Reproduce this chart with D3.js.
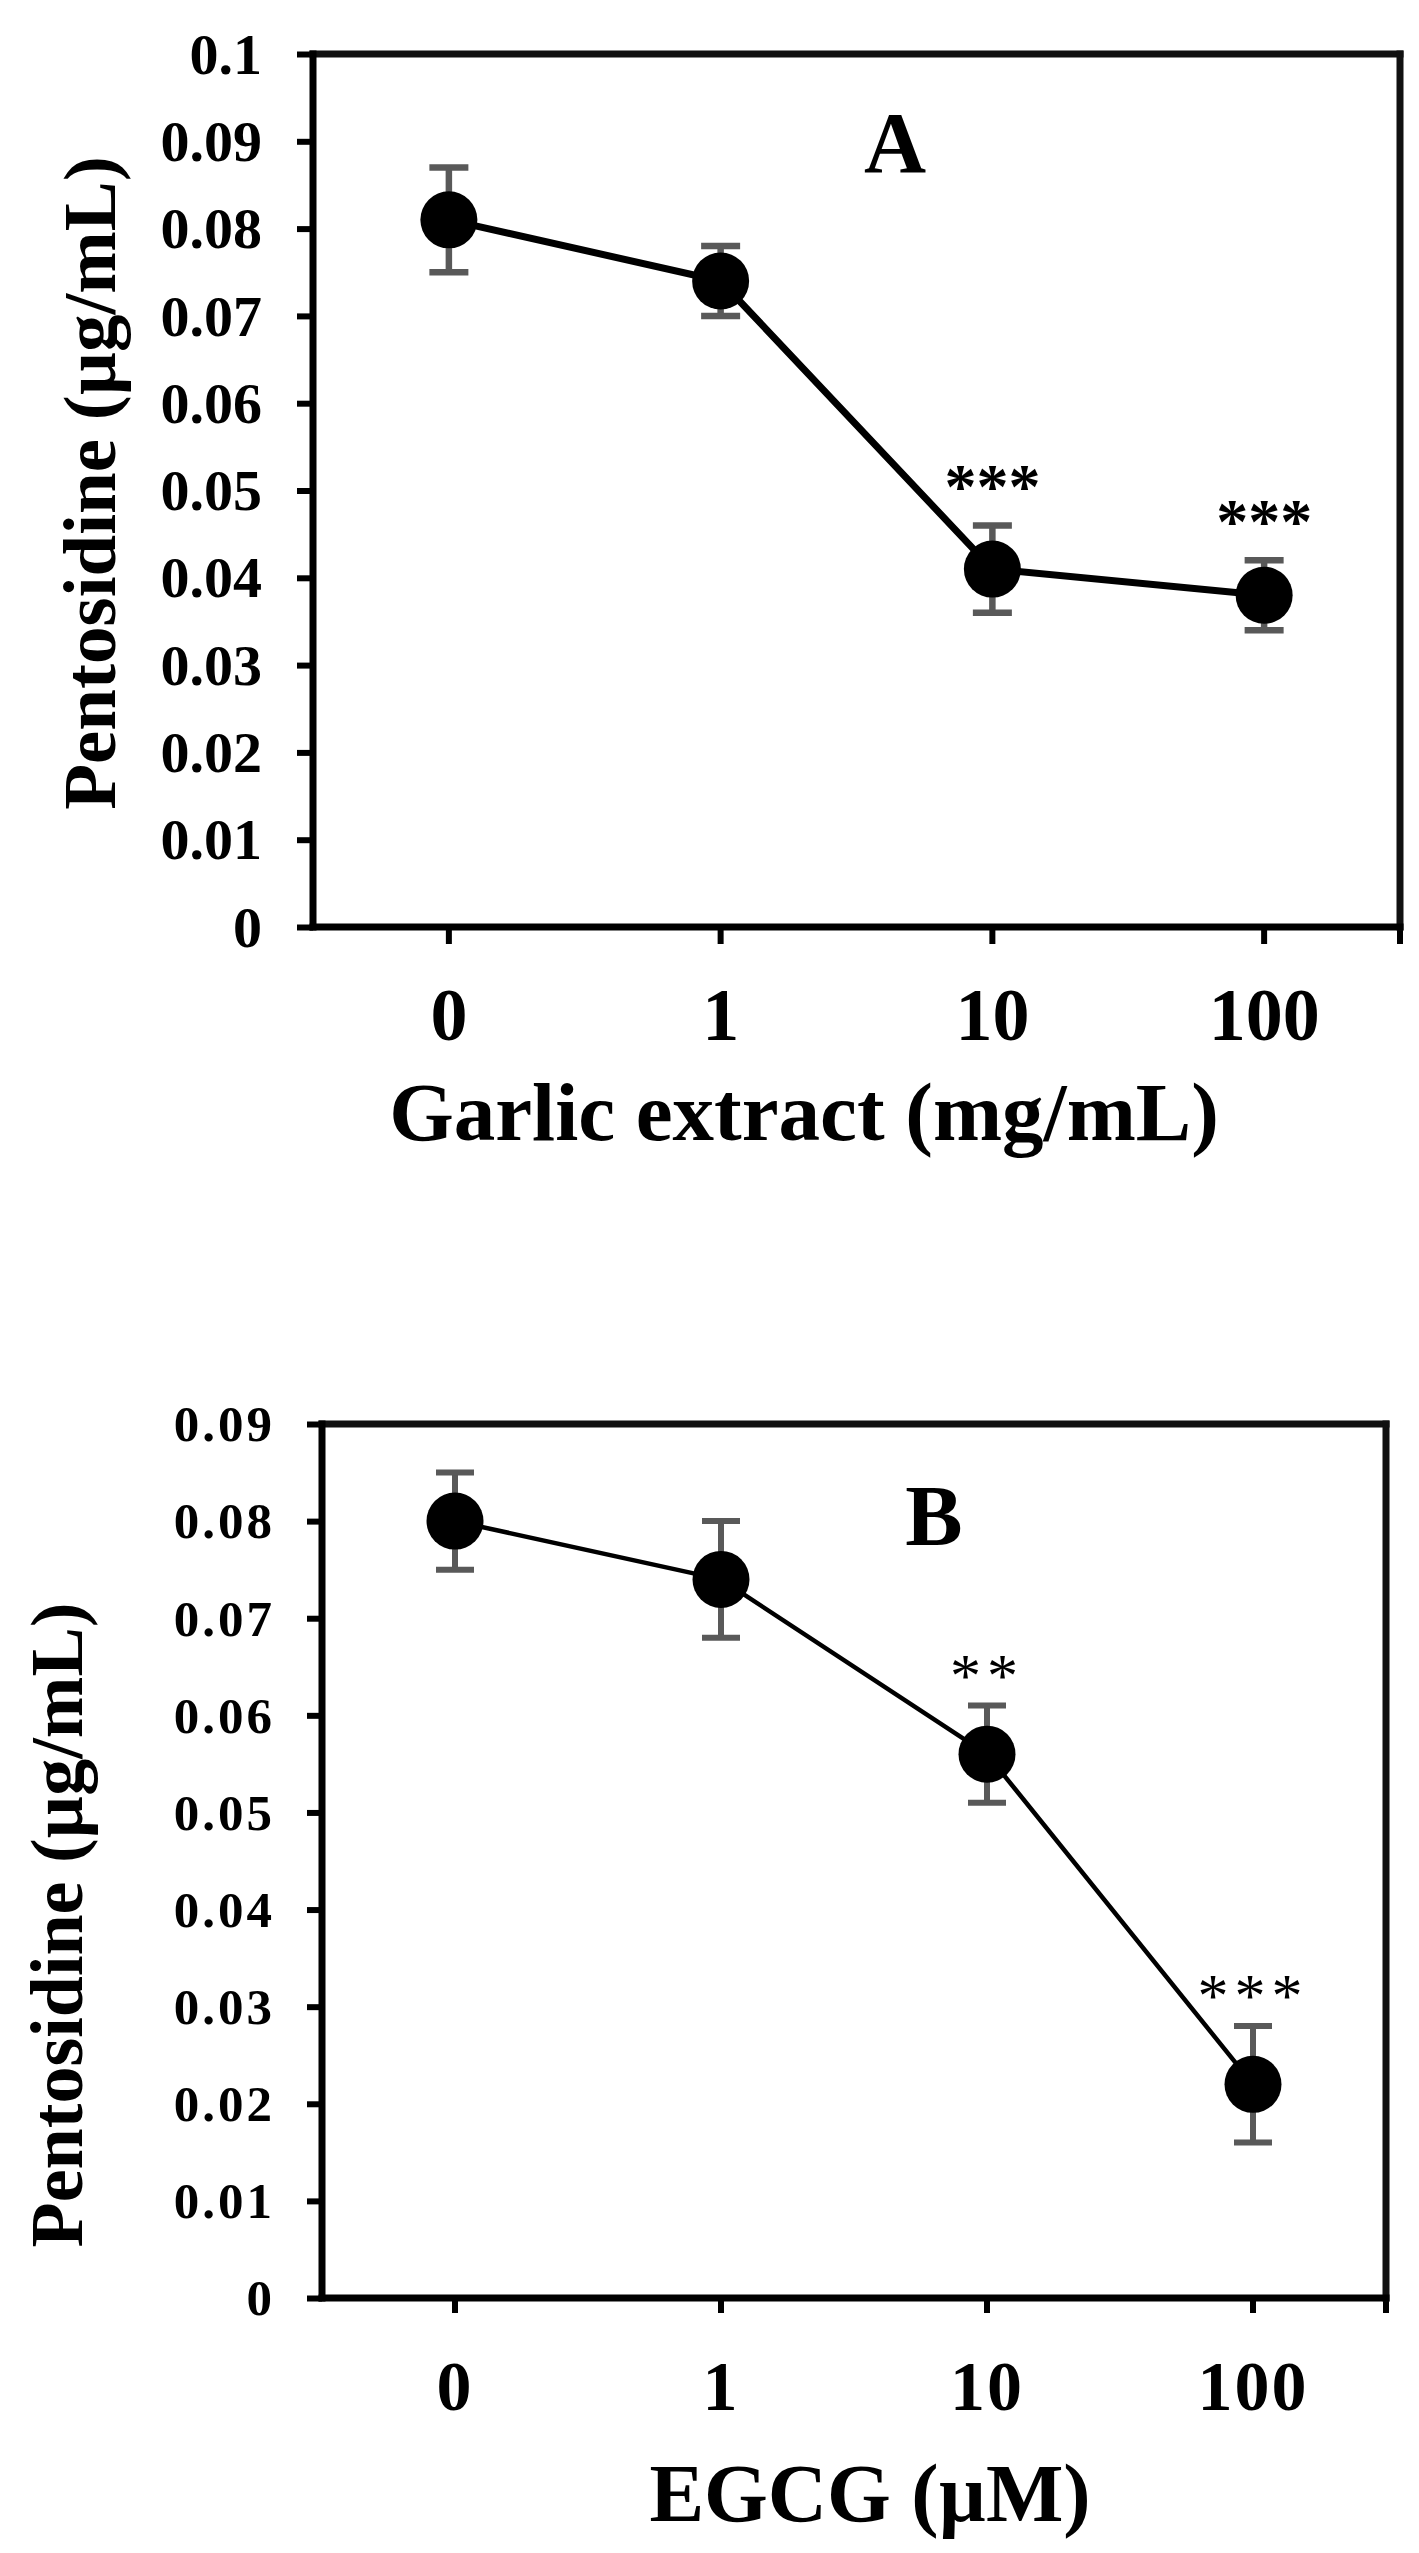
<!DOCTYPE html>
<html>
<head>
<meta charset="utf-8">
<script src="https://cdn.jsdelivr.net/npm/d3@7"></script>
<style>
  html, body { margin: 0; padding: 0; background: #fff; }
  svg { display: block; }
</style>
</head>
<body>
<svg id="chart" width="1419" height="2553"></svg>
<script>
// ---------------- Data ----------------
const categories = ["0", "1", "10", "100"];

const garlicMeans  = [0.081, 0.074, 0.041, 0.038];
const garlicErrors = [0.006, 0.004, 0.005, 0.004];
const garlicSig    = ["", "", "***", "***"];

const egcgMeans  = [0.080, 0.074, 0.056, 0.022];
const egcgErrors = [0.005, 0.006, 0.005, 0.006];
const egcgSig    = ["", "", "**", "***"];

const yTicksA      = [0, 0.01, 0.02, 0.03, 0.04, 0.05, 0.06, 0.07, 0.08, 0.09, 0.1];
const yTickLabelsA = ["0", "0.01", "0.02", "0.03", "0.04", "0.05", "0.06", "0.07", "0.08", "0.09", "0.1"];
const yTicksB      = [0, 0.01, 0.02, 0.03, 0.04, 0.05, 0.06, 0.07, 0.08, 0.09];
const yTickLabelsB = ["0", "0.01", "0.02", "0.03", "0.04", "0.05", "0.06", "0.07", "0.08", "0.09"];

const yTitle   = "Pentosidine (µg/mL)";
const xTitleA  = "Garlic extract (mg/mL)";
const xTitleB  = "EGCG (µM)";
const panelA   = "A";
const panelB   = "B";

// ---------------- Drawing ----------------
const svg = d3.select("#chart");
svg.append("rect").attr("width", 1419).attr("height", 2553).attr("fill", "#fff");
const FONT = "'Liberation Serif', 'Times New Roman', Times, serif";

function drawPanel(p) {
  const g = svg.append("g");
  const y = d3.scaleLinear().domain(p.yDomain).range([p.bottom, p.top]);
  const x = d3.scaleBand().domain(categories).range([p.left, p.right]);
  const cx = d => x(d) + x.bandwidth() / 2;

  // Y axis
  const yAxis = d3.axisLeft(y)
    .tickValues(p.yTicks)
    .tickFormat((d, i) => p.yLabels[i])
    .tickSize(p.yTickSize)
    .tickSizeOuter(0)
    .tickPadding(p.yTickPad);
  const ya = g.append("g").attr("transform", `translate(${p.left},0)`).call(yAxis);
  ya.select(".domain").remove();
  ya.selectAll(".tick line").attr("stroke", "#000").attr("stroke-width", 6);
  ya.attr("font-family", FONT).attr("font-size", p.yFont).attr("font-weight", "bold");
  ya.selectAll(".tick text").attr("fill", "#000").attr("letter-spacing", p.yLetter)
    .attr("dy", "0.33em");

  // X axis
  const xAxis = d3.axisBottom(x).tickSize(p.xTickSize).tickSizeOuter(0);
  const xa = g.append("g").attr("transform", `translate(0,${p.bottom})`).call(xAxis);
  xa.select(".domain").remove();
  xa.selectAll(".tick line").attr("stroke", "#000").attr("stroke-width", 6);
  xa.attr("font-family", FONT).attr("font-size", p.xFont).attr("font-weight", "bold");
  xa.selectAll(".tick text").attr("fill", "#000").attr("y", p.xLabelBase).attr("dy", 0)
    .attr("letter-spacing", p.xLetter);
  // extra tick at the right end of the category axis
  g.append("line")
    .attr("x1", x.range()[1]).attr("x2", x.range()[1])
    .attr("y1", p.bottom).attr("y2", p.bottom + p.xTickSize)
    .attr("stroke", "#000").attr("stroke-width", 6);

  // Frame
  const fw = 7;
  g.append("line").attr("x1", p.left).attr("x2", p.right).attr("y1", p.top).attr("y2", p.top)
    .attr("stroke", "#111").attr("stroke-width", fw).attr("stroke-linecap", "square");
  g.append("line").attr("x1", p.right).attr("x2", p.right).attr("y1", p.top).attr("y2", p.bottom)
    .attr("stroke", "#111").attr("stroke-width", fw).attr("stroke-linecap", "square");
  g.append("line").attr("x1", p.left).attr("x2", p.left).attr("y1", p.top).attr("y2", p.bottom)
    .attr("stroke", "#000").attr("stroke-width", fw).attr("stroke-linecap", "square");
  g.append("line").attr("x1", p.left).attr("x2", p.right).attr("y1", p.bottom).attr("y2", p.bottom)
    .attr("stroke", "#000").attr("stroke-width", fw).attr("stroke-linecap", "square");

  const pts = categories.map((c, i) => ({ c, v: p.means[i], e: p.errors[i], s: p.sig[i] }));

  // Error bars
  const eb = g.append("g").attr("stroke", "#595959").attr("stroke-width", p.errWidth);
  eb.selectAll(".stem").data(pts).join("line")
    .attr("x1", d => cx(d.c)).attr("x2", d => cx(d.c))
    .attr("y1", d => y(d.v + d.e)).attr("y2", d => y(d.v - d.e));
  eb.selectAll(".capT").data(pts).join("line")
    .attr("x1", d => cx(d.c) - p.capW / 2).attr("x2", d => cx(d.c) + p.capW / 2)
    .attr("y1", d => y(d.v + d.e)).attr("y2", d => y(d.v + d.e));
  eb.selectAll(".capB").data(pts).join("line")
    .attr("x1", d => cx(d.c) - p.capW / 2).attr("x2", d => cx(d.c) + p.capW / 2)
    .attr("y1", d => y(d.v - d.e)).attr("y2", d => y(d.v - d.e));

  // Line
  const line = d3.line().x(d => cx(d.c)).y(d => y(d.v));
  g.append("path").datum(pts).attr("d", line)
    .attr("fill", "none").attr("stroke", "#000").attr("stroke-width", p.lineWidth)
    .attr("stroke-linejoin", "round");

  // Markers
  g.selectAll(".mk").data(pts).join("circle")
    .attr("cx", d => cx(d.c)).attr("cy", d => y(d.v)).attr("r", p.markerR)
    .attr("fill", "#000");

  // Significance stars
  g.selectAll(".sig").data(pts.filter(d => d.s)).join("text")
    .attr("x", d => cx(d.c)).attr("y", d => y(d.v + d.e) - p.sigGap)
    .attr("text-anchor", "middle")
    .attr("font-family", FONT).attr("font-size", p.sigFont).attr("font-weight", p.sigWeight)
    .attr("letter-spacing", p.sigLetter)
    .text(d => d.s);

  // Panel letter
  g.append("text").attr("x", p.letterX).attr("y", p.letterY)
    .attr("text-anchor", "middle").attr("font-family", FONT)
    .attr("font-size", p.letterFont).attr("font-weight", "bold").text(p.letter);

  // Axis titles
  g.append("text").attr("transform", `translate(${p.yTitleX},${p.yTitleY}) rotate(-90)`)
    .attr("text-anchor", "middle").attr("font-family", FONT)
    .attr("font-size", p.yTitleFont).attr("font-weight", "bold").text(yTitle);
  g.append("text").attr("x", p.xTitleX).attr("y", p.xTitleY)
    .attr("text-anchor", "middle").attr("font-family", FONT)
    .attr("font-size", p.xTitleFont).attr("font-weight", "bold").text(p.xTitle);
}

drawPanel({
  left: 313, right: 1400, top: 54, bottom: 927,
  yDomain: [0, 0.1], yTicks: yTicksA, yLabels: yTickLabelsA,
  means: garlicMeans, errors: garlicErrors, sig: garlicSig,
  yTickSize: 16, yTickPad: 35, yFont: 58, yLetter: 0,
  xTickSize: 17, xFont: 74, xLabelBase: 113, xLetter: 0,
  errWidth: 6.5, capW: 39, lineWidth: 7, markerR: 28.5,
  sigGap: 17, sigFont: 64, sigWeight: "bold", sigLetter: 0,
  letter: panelA, letterX: 895, letterY: 172, letterFont: 86,
  yTitleX: 115, yTitleY: 483, yTitleFont: 75,
  xTitle: xTitleA, xTitleX: 804, xTitleY: 1140, xTitleFont: 83
});

drawPanel({
  left: 322, right: 1386, top: 1424, bottom: 2298,
  yDomain: [0, 0.09], yTicks: yTicksB, yLabels: yTickLabelsB,
  means: egcgMeans, errors: egcgErrors, sig: egcgSig,
  yTickSize: 15, yTickPad: 32, yFont: 51, yLetter: 3,
  xTickSize: 15, xFont: 70, xLabelBase: 112, xLetter: 2,
  errWidth: 6, capW: 38, lineWidth: 4.5, markerR: 28.5,
  sigGap: 10, sigFont: 62, sigWeight: "normal", sigLetter: 6,
  letter: panelB, letterX: 934, letterY: 1545, letterFont: 86,
  yTitleX: 82, yTitleY: 1925, yTitleFont: 74,
  xTitle: xTitleB, xTitleX: 870, xTitleY: 2521, xTitleFont: 82
});
</script>
</body>
</html>
